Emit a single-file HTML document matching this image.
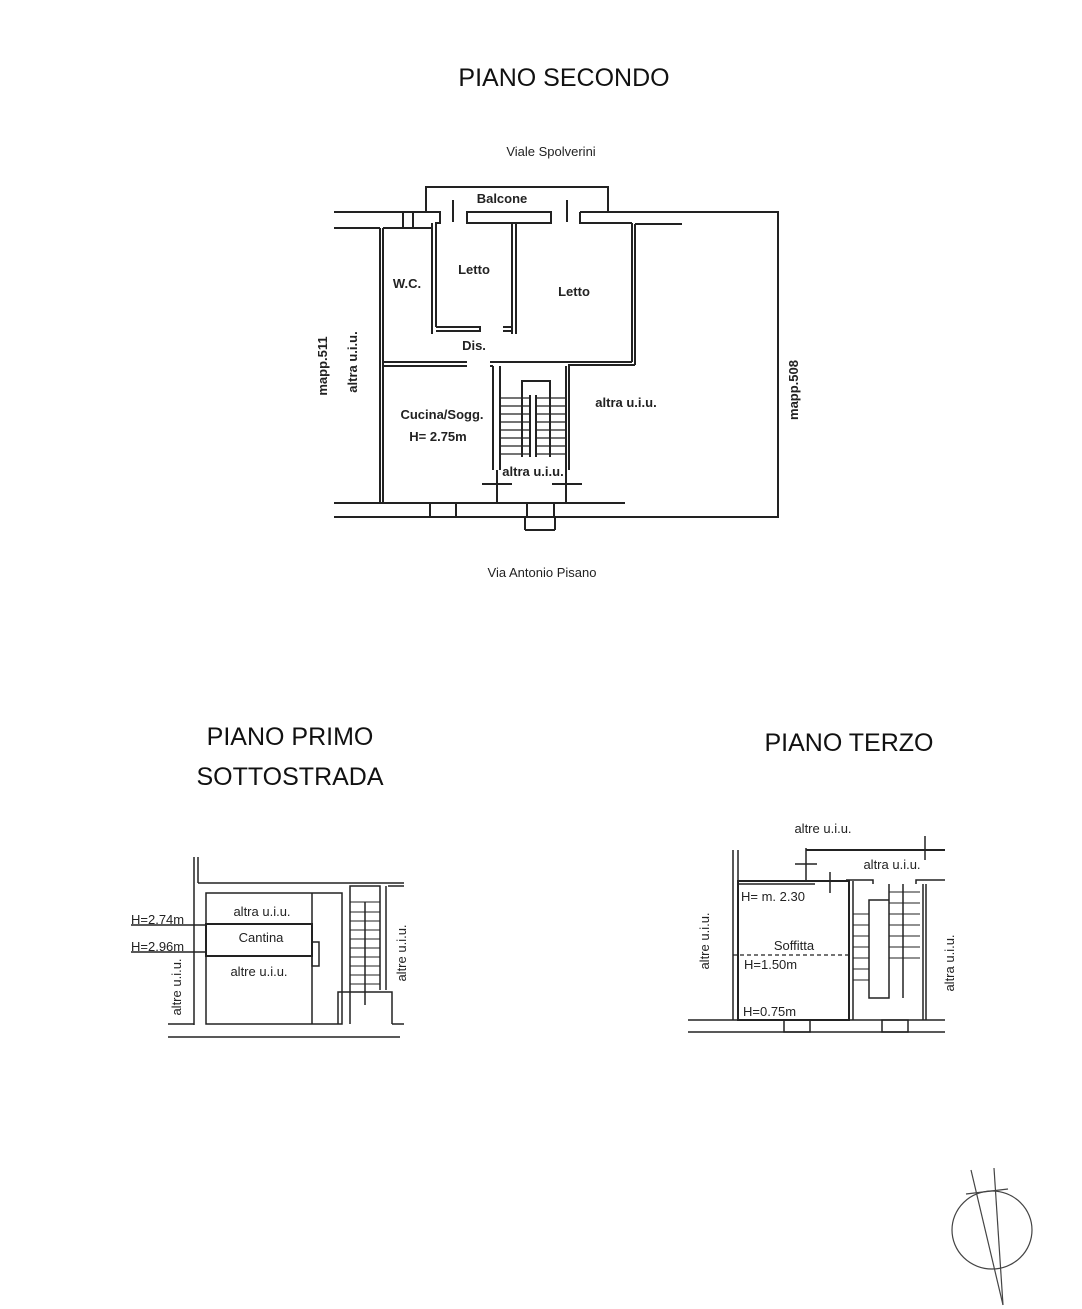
<!DOCTYPE html>
<html><head><meta charset="utf-8"><style>
html,body{margin:0;padding:0;background:#fff;}
svg{display:block;}
text{font-family:"Liberation Sans",Arial,sans-serif;fill:#222;}
.t{font-size:25px;fill:#111;}
.s{font-size:13px;font-weight:bold;}
</style></head><body>
<svg width="1082" height="1309" viewBox="0 0 1082 1309" xmlns="http://www.w3.org/2000/svg">
<rect width="1082" height="1309" fill="#fff"/>
<text class="t" x="564" y="86" text-anchor="middle">PIANO SECONDO</text>
<text class="s" x="551" y="156" text-anchor="middle" font-weight="normal" style="font-weight:normal">Viale Spolverini</text>
<text class="s" x="542" y="577" text-anchor="middle" style="font-weight:normal">Via Antonio Pisano</text>

<g stroke="#222" stroke-width="2" fill="none">
<!-- balcony -->
<polyline points="426,211 426,187 608,187 608,211"/>
<!-- outer -->
<line x1="334" y1="212" x2="403" y2="212"/>
<polyline points="580,212 778,212 778,517 334,517"/>
<line x1="334" y1="228" x2="380" y2="228"/>
<line x1="380" y1="228" x2="380" y2="503"/>
<line x1="334" y1="503" x2="625" y2="503"/>
<!-- top wall pieces -->
<rect x="403" y="212" width="10" height="16"/>
<polyline points="413,212 440,212 440,223 435,223"/>
<rect x="467" y="212" width="84" height="11"/>
<polyline points="580,212 580,223 632,223"/>
<line x1="453" y1="200" x2="453" y2="222"/>
<line x1="567" y1="200" x2="567" y2="222"/>
<!-- rooms -->
<line x1="383" y1="228" x2="432" y2="228"/>
<line x1="383" y1="228" x2="383" y2="503"/>
<line x1="432" y1="223" x2="432" y2="334"/>
<line x1="436" y1="223" x2="436" y2="327"/>
<polyline points="436,327 480,327 480,331 436,331"/>
<line x1="512" y1="223" x2="512" y2="334"/>
<line x1="516" y1="223" x2="516" y2="334"/>
<polyline points="503,327 512,327 512,331 503,331"/>
<line x1="632" y1="223" x2="632" y2="362"/>
<line x1="635" y1="224" x2="682" y2="224"/>
<line x1="635" y1="224" x2="635" y2="365"/>
<line x1="383" y1="362" x2="467" y2="362"/>
<line x1="383" y1="366" x2="467" y2="366"/>
<line x1="490" y1="362" x2="632" y2="362"/>
<line x1="490" y1="366" x2="493" y2="366"/>
<line x1="568" y1="365" x2="635" y2="365"/>
<!-- stair walls -->
<line x1="493" y1="366" x2="493" y2="470"/>
<line x1="500" y1="366" x2="500" y2="470"/>
<line x1="566" y1="366" x2="566" y2="470"/>
<line x1="569" y1="366" x2="569" y2="470"/>
<line x1="497" y1="470" x2="497" y2="503"/>
<line x1="566" y1="470" x2="566" y2="503"/>
<line x1="482" y1="484" x2="512" y2="484"/>
<line x1="552" y1="484" x2="582" y2="484"/>
<polyline points="522,457 522,381 550,381 550,457"/>
<line x1="530" y1="395" x2="530" y2="457"/>
<line x1="536" y1="395" x2="536" y2="457"/>
<!-- bottom windows -->
<rect x="430" y="503" width="26" height="14"/>
<rect x="527" y="503" width="27" height="14"/>
<line x1="525" y1="517" x2="525" y2="530"/>
<line x1="555" y1="517" x2="555" y2="530"/>
<line x1="525" y1="530" x2="555" y2="530"/>
</g>
<g stroke="#222" stroke-width="1.2">
<line x1="500" y1="398" x2="530" y2="398"/><line x1="536" y1="398" x2="566" y2="398"/>
<line x1="500" y1="406" x2="530" y2="406"/><line x1="536" y1="406" x2="566" y2="406"/>
<line x1="500" y1="414" x2="530" y2="414"/><line x1="536" y1="414" x2="566" y2="414"/>
<line x1="500" y1="422" x2="530" y2="422"/><line x1="536" y1="422" x2="566" y2="422"/>
<line x1="500" y1="430" x2="530" y2="430"/><line x1="536" y1="430" x2="566" y2="430"/>
<line x1="500" y1="438" x2="530" y2="438"/><line x1="536" y1="438" x2="566" y2="438"/>
<line x1="500" y1="446" x2="530" y2="446"/><line x1="536" y1="446" x2="566" y2="446"/>
<line x1="500" y1="454" x2="530" y2="454"/><line x1="536" y1="454" x2="566" y2="454"/>
</g>
<text class="s" x="502" y="203" text-anchor="middle">Balcone</text>
<text class="s" x="474" y="274" text-anchor="middle">Letto</text>
<text class="s" x="574" y="296" text-anchor="middle">Letto</text>
<text class="s" x="407" y="288" text-anchor="middle">W.C.</text>
<text class="s" x="474" y="350" text-anchor="middle">Dis.</text>
<text class="s" x="442" y="419" text-anchor="middle">Cucina/Sogg.</text>
<text class="s" x="438" y="441" text-anchor="middle">H= 2.75m</text>
<text class="s" x="626" y="407" text-anchor="middle">altra u.i.u.</text>
<text class="s" x="533" y="476" text-anchor="middle">altra u.i.u.</text>
<text class="s" transform="translate(327,366) rotate(-90)" text-anchor="middle">mapp.511</text>
<text class="s" transform="translate(357,362) rotate(-90)" text-anchor="middle">altra u.i.u.</text>
<text class="s" transform="translate(798,390) rotate(-90)" text-anchor="middle">mapp.508</text>

<!-- PIANO PRIMO -->
<text class="t" x="290" y="745" text-anchor="middle">PIANO PRIMO</text>
<text class="t" x="290" y="785" text-anchor="middle">SOTTOSTRADA</text>
<g stroke="#222" stroke-width="1.5" fill="none">
<line x1="194" y1="857" x2="194" y2="1025"/>
<line x1="198" y1="857" x2="198" y2="883"/>
<line x1="198" y1="883" x2="404" y2="883"/>
<rect x="206" y="893" width="136" height="131"/>
<line x1="312" y1="893" x2="312" y2="1024"/>
<rect x="206" y="924" width="106" height="32" stroke-width="2"/>
<rect x="312" y="942" width="7" height="24"/>
<line x1="131" y1="925" x2="206" y2="925"/>
<line x1="131" y1="952" x2="206" y2="952"/>
<polyline points="350,1024 350,886 380,886 380,990"/>
<polyline points="338,1024 338,992 392,992 392,1024"/>
<line x1="386" y1="886" x2="386" y2="990"/>
<line x1="388" y1="886" x2="404" y2="886"/>
<line x1="365" y1="902" x2="365" y2="1005"/>
<line x1="168" y1="1024" x2="194" y2="1024"/>
<line x1="392" y1="1024" x2="404" y2="1024"/>
<line x1="168" y1="1037" x2="400" y2="1037"/>
</g>
<g stroke="#222" stroke-width="1">
<line x1="350" y1="902" x2="380" y2="902"/><line x1="350" y1="912" x2="380" y2="912"/>
<line x1="350" y1="921" x2="380" y2="921"/><line x1="350" y1="930" x2="380" y2="930"/>
<line x1="350" y1="939" x2="380" y2="939"/><line x1="350" y1="948" x2="380" y2="948"/>
<line x1="350" y1="957" x2="380" y2="957"/><line x1="350" y1="966" x2="380" y2="966"/>
<line x1="350" y1="975" x2="380" y2="975"/><line x1="350" y1="984" x2="380" y2="984"/>
</g>
<text class="s" x="262" y="916" text-anchor="middle" style="font-weight:normal">altra u.i.u.</text>
<text class="s" x="261" y="942" text-anchor="middle" style="font-weight:normal">Cantina</text>
<text class="s" x="259" y="976" text-anchor="middle" style="font-weight:normal">altre u.i.u.</text>
<text class="s" x="131" y="924" style="font-weight:normal">H=2.74m</text>
<text class="s" x="131" y="951" style="font-weight:normal">H=2.96m</text>
<text class="s" transform="translate(181,987) rotate(-90)" text-anchor="middle" style="font-weight:normal">altre u.i.u.</text>
<text class="s" transform="translate(406,953) rotate(-90)" text-anchor="middle" style="font-weight:normal">altre u.i.u.</text>

<!-- PIANO TERZO -->
<text class="t" x="849" y="751" text-anchor="middle">PIANO TERZO</text>
<g stroke="#222" stroke-width="1.5" fill="none">
<line x1="733" y1="850" x2="733" y2="1020"/>
<line x1="738" y1="850" x2="738" y2="880"/>
<rect x="738" y="881" width="111" height="139" stroke-width="2"/>
<line x1="738" y1="884" x2="815" y2="884"/>
<line x1="849" y1="881" x2="849" y2="884"/>
<line x1="806" y1="850" x2="945" y2="850" stroke-width="2"/>
<line x1="806" y1="848" x2="806" y2="880"/>
<line x1="795" y1="864" x2="817" y2="864"/>
<line x1="925" y1="836" x2="925" y2="860"/>
<line x1="830" y1="872" x2="830" y2="893"/>
<line x1="853" y1="881" x2="853" y2="1020"/>
<polyline points="846,880 873,880 873,884"/>
<polyline points="916,884 916,880 945,880"/>
<line x1="923" y1="884" x2="923" y2="1020"/>
<line x1="926" y1="884" x2="926" y2="1020"/>
<polyline points="889,884 889,998 869,998 869,900 889,900"/>
<polyline points="903,884 903,998"/>
<line x1="688" y1="1020" x2="945" y2="1020"/>
<line x1="688" y1="1032" x2="945" y2="1032"/>
<rect x="784" y="1020" width="26" height="12"/>
<rect x="882" y="1020" width="26" height="12"/>
</g>
<line x1="733" y1="955" x2="849" y2="955" stroke="#222" stroke-width="1.2" stroke-dasharray="4,3"/>
<g stroke="#222" stroke-width="1">
<line x1="853" y1="914" x2="869" y2="914"/><line x1="889" y1="892" x2="920" y2="892"/>
<line x1="853" y1="925" x2="869" y2="925"/><line x1="889" y1="903" x2="920" y2="903"/>
<line x1="853" y1="936" x2="869" y2="936"/><line x1="889" y1="914" x2="920" y2="914"/>
<line x1="853" y1="947" x2="869" y2="947"/><line x1="889" y1="925" x2="920" y2="925"/>
<line x1="853" y1="958" x2="869" y2="958"/><line x1="889" y1="936" x2="920" y2="936"/>
<line x1="853" y1="969" x2="869" y2="969"/><line x1="889" y1="947" x2="920" y2="947"/>
<line x1="853" y1="980" x2="869" y2="980"/><line x1="889" y1="958" x2="920" y2="958"/>
</g>
<text class="s" x="823" y="833" text-anchor="middle" style="font-weight:normal">altre u.i.u.</text>
<text class="s" x="892" y="869" text-anchor="middle" style="font-weight:normal">altra u.i.u.</text>
<text class="s" x="741" y="901" style="font-weight:normal">H= m. 2.30</text>
<text class="s" x="794" y="950" text-anchor="middle" style="font-weight:normal">Soffitta</text>
<text class="s" x="744" y="969" style="font-weight:normal">H=1.50m</text>
<text class="s" x="743" y="1016" style="font-weight:normal">H=0.75m</text>
<text class="s" transform="translate(709,941) rotate(-90)" text-anchor="middle" style="font-weight:normal">altre u.i.u.</text>
<text class="s" transform="translate(954,963) rotate(-90)" text-anchor="middle" style="font-weight:normal">altra u.i.u.</text>

<!-- compass -->
<g stroke="#444" stroke-width="1.2" fill="none">
<ellipse cx="992" cy="1230" rx="40" ry="39"/>
<line x1="971" y1="1170" x2="1003" y2="1305"/>
<line x1="994" y1="1168" x2="1003" y2="1305"/>
<line x1="966" y1="1194" x2="1008" y2="1189"/>
</g>
</svg>
</body></html>
